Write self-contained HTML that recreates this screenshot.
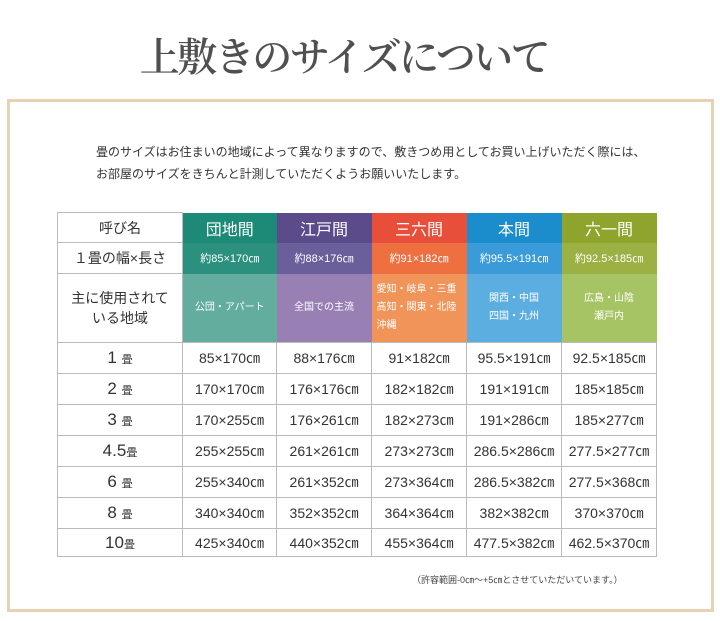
<!DOCTYPE html>
<html><head><meta charset="utf-8"><style>
body{margin:0;width:720px;height:621px;background:#fff;position:relative;overflow:hidden;font-family:"Liberation Sans","Noto Sans CJK JP",sans-serif;color:#333}
h1{position:absolute;left:-16px;width:720px;top:33px;margin:0;text-align:center;font-family:"Liberation Serif","Noto Serif CJK SC",serif;font-weight:600;font-size:40px;color:#505050;letter-spacing:-2.5px;line-height:50px}
.frame{position:absolute;left:7px;top:99px;width:701px;height:507px;border:3px solid #e8d2b4;box-sizing:content-box}
.intro{position:absolute;left:96px;top:141px;font-size:12px;line-height:22px;color:#333}
table{position:absolute;left:57px;top:212px;border-collapse:collapse;table-layout:fixed}
td{border:1px solid #bbb;text-align:center;padding:0;font-size:14px;color:#333}
td.h{color:#fff;font-size:16px;border:none}
td.s{color:#fff;font-size:11px;border:none}
td.r{color:#fff;font-size:10px;line-height:18px;border:none}
.note{position:absolute;left:412px;top:573px;font-size:9px;color:#444}
.big{font-size:17px}
small{font-size:11px}
</style></head><body>
<h1>上敷きのサイズについて</h1>
<div class="frame"></div>
<div class="intro">畳のサイズはお住まいの地域によって異なりますので、敷きつめ用としてお買い上げいただく際には、<br>お部屋のサイズをきちんと計測していただくようお願いいたします。</div>
<table>
<colgroup><col style="width:125px"><col style="width:94px"><col style="width:95px"><col style="width:95px"><col style="width:95px"><col style="width:95px"></colgroup>
<tr style="height:30px"><td>呼び名</td><td class="h" style="background:#1d8a77">団地間</td><td class="h" style="background:#5b4b8b">江戸間</td><td class="h" style="background:#e84f3a">三六間</td><td class="h" style="background:#1b8dcc">本間</td><td class="h" style="background:#8ea42c">六一間</td></tr>
<tr style="height:31px"><td>１畳の幅×長さ</td><td class="s" style="background:#2c907f">約85×170㎝</td><td class="s" style="background:#6a5e9b">約88×176㎝</td><td class="s" style="background:#ee7040">約91×182㎝</td><td class="s" style="background:#3a9bd8">約95.5×191㎝</td><td class="s" style="background:#9bb143">約92.5×185㎝</td></tr>
<tr style="height:69px"><td style="line-height:20px">主に使用されて<br>いる地域</td><td class="r" style="background:#62ad9e">公団・アパート</td><td class="r" style="background:#9880b4">全国での主流</td><td class="r" style="background:#f19459;text-align:left;padding-left:5px">愛知・岐阜・三重<br>高知・関東・北陸<br>沖縄</td><td class="r" style="background:#5daee0">関西・中国<br>四国・九州</td><td class="r" style="background:#a7c465">広島・山陰<br>瀬戸内</td></tr>
<tr style="height:31px"><td class="big">1 <small>畳</small></td><td>85×170㎝</td><td>88×176㎝</td><td>91×182㎝</td><td>95.5×191㎝</td><td>92.5×185㎝</td></tr>
<tr style="height:31px"><td class="big">2 <small>畳</small></td><td>170×170㎝</td><td>176×176㎝</td><td>182×182㎝</td><td>191×191㎝</td><td>185×185㎝</td></tr>
<tr style="height:31px"><td class="big">3 <small>畳</small></td><td>170×255㎝</td><td>176×261㎝</td><td>182×273㎝</td><td>191×286㎝</td><td>185×277㎝</td></tr>
<tr style="height:31px"><td class="big">4.5<small>畳</small></td><td>255×255㎝</td><td>261×261㎝</td><td>273×273㎝</td><td>286.5×286㎝</td><td>277.5×277㎝</td></tr>
<tr style="height:31px"><td class="big">6 <small>畳</small></td><td>255×340㎝</td><td>261×352㎝</td><td>273×364㎝</td><td>286.5×382㎝</td><td>277.5×368㎝</td></tr>
<tr style="height:31px"><td class="big">8 <small>畳</small></td><td>340×340㎝</td><td>352×352㎝</td><td>364×364㎝</td><td>382×382㎝</td><td>370×370㎝</td></tr>
<tr style="height:28px"><td class="big">10<small>畳</small></td><td>425×340㎝</td><td>440×352㎝</td><td>455×364㎝</td><td>477.5×382㎝</td><td>462.5×370㎝</td></tr>
</table>
<div class="note">（許容範囲-0㎝～+5㎝とさせていただいています。）</div>
</body></html>
